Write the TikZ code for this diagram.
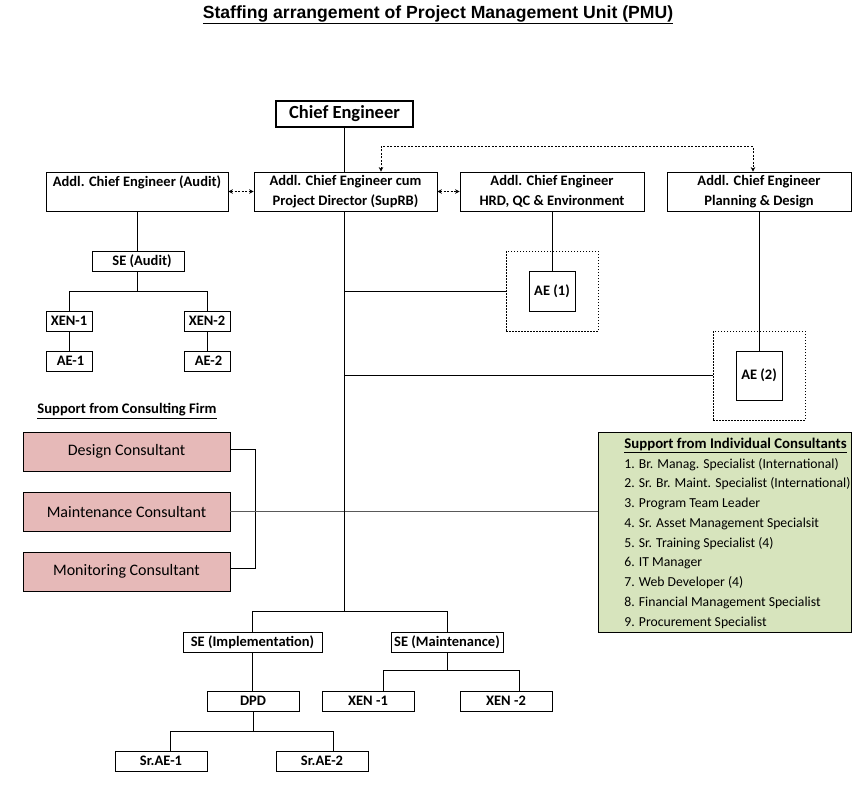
\documentclass[tikz,border=0pt]{standalone}
\usepackage{fontspec}
\setmainfont{Carlito}
\newfontfamily\titlefont{Liberation Sans}
\usetikzlibrary{arrows.meta}
\definecolor{colorFIRM}{HTML}{E6B9B8}
\definecolor{colorINDV}{HTML}{D7E4BD}
\tikzset{
   every path/.style={line width=0.8pt},
   post/.style={draw,inner sep=0pt,minimum height=20pt,align=center,
     font=\fontsize{14.5}{20}\selectfont\bfseries},
   frame/.style={draw,dash pattern=on 1.5pt off 1.5pt,line width=0.7pt},
   firm/.style={draw,fill=colorFIRM,inner sep=0pt,minimum width=207pt,
     minimum height=39pt,font=\fontsize{16}{18}\selectfont},
   org/.style={-},
   link/.style={{Stealth[length=4.5pt,width=4.5pt]}-{Stealth[length=4.5pt,width=4.5pt]},
     dash pattern=on 2pt off 1.5pt},
}
\newcommand{\dorg}[2]{\draw[org] (#1) -- (#2)}
\newcommand{\dtree}[2]{\draw[org] (#1) -| (#2)}
\newcommand{\dlink}[2]{\draw[link] (#1) -- (#2)}

\begin{document}
\begin{tikzpicture}[x=1pt,y=-1pt]
      \useasboundingbox (0,0) rectangle (853,793);
      \node[font=\titlefont\fontsize{17.6}{20}\selectfont\bfseries] (Title) at (438,15)
        {\underline{Staffing arrangement of Project Management Unit (PMU)}};

      \node[post,line width=2pt,minimum width=137pt,minimum height=26pt,
        font=\fontsize{18.5}{20}\selectfont\bfseries] (CE) at (344.5,114) {Chief Engineer};

      \node[post,minimum width=182pt,minimum height=39pt] (ACEA) at (137,191.5)
        {Addl. Chief Engineer (Audit)\\ \mbox{}};
      \node[post,minimum width=183pt,minimum height=39pt] (PD) at (345.5,191.5)
        {Addl. Chief Engineer cum\\ Project Director (SupRB)};
      \node[post,minimum width=184pt,minimum height=39pt] (HRD) at (552,191.5)
        {Addl. Chief Engineer\\ HRD, QC \& Environment};
      \node[post,minimum width=184pt,minimum height=39pt] (PDD) at (759,191.5)
        {Addl. Chief Engineer\\ Planning \& Design};
      \dorg{CE.south}{CE.south |- PD.north};
      \dlink{ACEA.east}{PD.west};
      \dlink{PD.east}{HRD.west};
      \draw[link] ([xshift=35.5pt]PD.north) -- ++(0,-25) -| ([xshift=-6pt]PDD.north);

      % audit branch
      \node[post,minimum width=92pt] (SEA) at (138,261.5) {\hspace*{8pt}SE (Audit)};
      \node[post,minimum width=46pt] (XENa) at (69,321) {XEN-1};
      \node[post,minimum width=46pt] (XENb) at (207,321) {XEN-2};
      \node[post,minimum width=46pt] (AEa) at (69,361) {\hspace*{3pt}AE-1};
      \node[post,minimum width=46pt] (AEb) at (207,361) {\hspace*{3pt}AE-2};
      \dorg{ACEA.south}{ACEA.south |- SEA.north};
      \coordinate (SEAj) at (137,291);
      \dorg{SEA.south -| SEAj}{SEAj};
      \dtree{SEAj}{XENa.north};
      \dtree{SEAj}{XENb.north};
      \dorg{XENa.south}{AEa.north};
      \dorg{XENb.south}{AEb.north};

      % assistant engineers
      \node[frame,minimum width=92pt,minimum height=80pt] (AE1f) at (552,291) {};
      \node[post,minimum width=46pt,minimum height=40pt] (AE1) at (552,291) {AE (1)};
      \node[frame,minimum width=92pt,minimum height=89pt] (AE2f) at (759,375.5) {};
      \node[post,minimum width=46pt,minimum height=49pt] (AE2) at (759,375.5) {AE (2)};
      \dorg{HRD.south}{AE1.north};
      \dorg{PDD.south}{AE2.north};
      \coordinate (PDbot) at (344,611);
      \dorg{PDbot |- AE1f.west}{AE1f.west};
      \dorg{PDbot |- AE2f.west}{AE2f.west};

      % consultants
      \node[font=\fontsize{14.6}{16}\selectfont\bfseries] (FirmHd) at (127,411)
        {\underline{Support from Consulting Firm}};
      \node[firm] (DC) at (126.5,451.5) {Design Consultant};
      \node[firm] (MC) at (126.5,511.5) {Maintenance Consultant};
      \node[firm] (MoC) at (126.5,571.5) {Monitoring Consultant};
      \coordinate (FirmJ) at (255,454);
      \draw[org] ([yshift=2pt]DC.east) -- ([yshift=2pt]DC.east -| FirmJ) |- ([yshift=3pt]MoC.east);
      \node[draw,fill=colorINDV,inner sep=0pt,minimum width=253pt,minimum height=200pt]
        (IC) at (724.5,532) {};
      \node[anchor=north west,inner sep=0pt,align=left,
        font=\fontsize{13.7}{19.75}\selectfont] (ICtext) at (624,437.5)
        {{\fontsize{14.8}{19.75}\selectfont\bfseries\underline{Support from Individual Consultants}}\\
         1. Br. Manag. Specialist (International)\\
         2. Sr. Br. Maint. Specialist (International)\\
         3. Program Team Leader\\
         4. Sr. Asset Management Specialsit\\
         5. Sr. Training Specialist (4)\\
         6. IT Manager\\
         7. Web Developer (4)\\
         8. Financial Management Specialist\\
         9. Procurement Specialist};
      \draw[org,gray!70!black] (MC.east) -- (MC.east -| IC.west);

      % implementation and maintenance
      \dorg{PD.south -| PDbot}{PDbot};
      \node[post,minimum width=139pt] (SEI) at (252.5,642) {SE (Implementation)};
      \node[post,minimum width=112pt] (SEM) at (447,642) {SE (Maintenance)};
      \dtree{PDbot}{SEI.north};
      \dtree{PDbot}{SEM.north};
      \node[post,minimum width=92pt] (DPD) at (253,701) {DPD};
      \node[post,minimum width=92pt] (XENc) at (368,701) {XEN -1};
      \node[post,minimum width=92pt] (XENd) at (506,701) {XEN -2};
      \dorg{SEI.south}{SEI.south |- DPD.north};
      \coordinate (SEMj) at (447,670);
      \dorg{SEM.south}{SEMj};
      \draw[org] (SEMj) -| ([xshift=15pt]XENc.north);
      \draw[org] (SEMj) -| ([xshift=13pt]XENd.north);
      \node[post,minimum width=92pt] (SrAEa) at (161,761) {Sr.AE-1};
      \node[post,minimum width=92pt] (SrAEb) at (322,761) {Sr.AE-2};
      \coordinate (DPDj) at (253,731);
      \dorg{DPD.south}{DPDj};
      \draw[org] (DPDj) -| ([xshift=9pt]SrAEa.north);
      \draw[org] (DPDj) -| ([xshift=11pt]SrAEb.north);
    \end{tikzpicture}
\end{document}
